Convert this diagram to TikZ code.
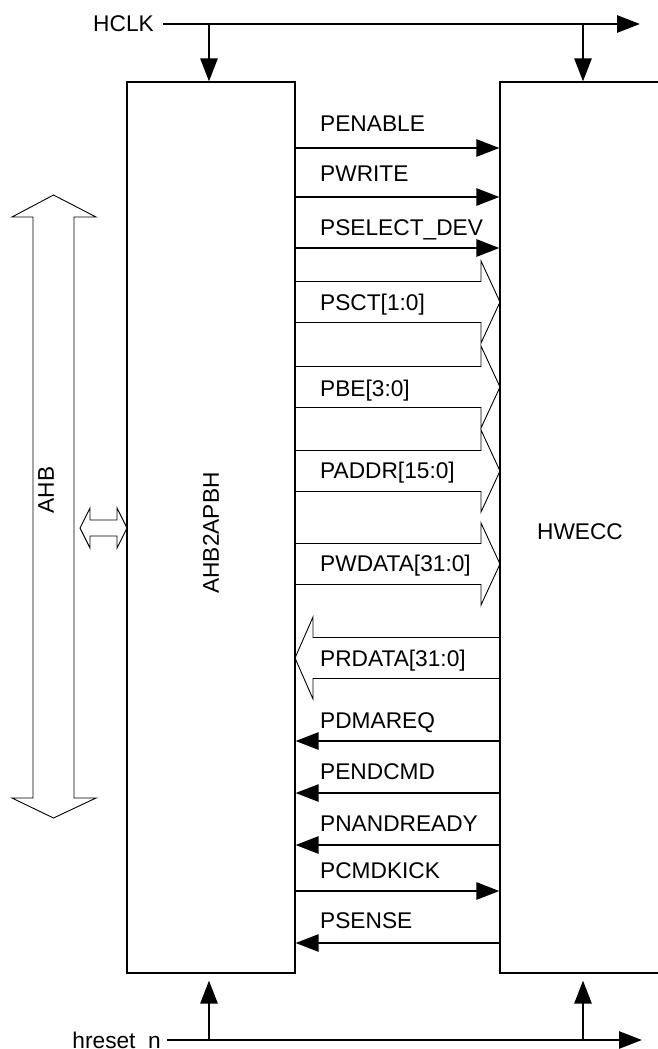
\documentclass[tikz,border=0pt]{standalone}
\usepackage{fontspec}
\setmainfont{Liberation Sans}
\usetikzlibrary{arrows.meta}

\tikzset{
	sig/.style={line width=2.6pt, -{Triangle[length=23pt,width=17pt]}},
	bus/.style={line width=0.9pt, line join=miter},
	blk/.style={draw, line width=1.1pt, minimum width=#1, minimum height=891pt, inner sep=0pt},
	lbl/.style={inner sep=0pt},
}

\begin{document}
\begin{tikzpicture}[x=1pt, y=-1pt, font=\fontsize{22.7}{27}\selectfont]
	
	% ------------------------------------------------------------
	% Positionen
	% ------------------------------------------------------------
	
	\def\xl{295}
	\def\xr{500}
	\def\xlab{320}
	\def\hb{481}
	
	\clip (0,0) rectangle (658,1049);
	
	% ------------------------------------------------------------
	% Blocks
	% ------------------------------------------------------------
	
	\node[blk=168pt] (apbh) at (211,527.5) {};
	\node[blk=220pt] (hwecc) at (610,527.5) {};
	
	\node[lbl, rotate=90] (apbhname) at (211,533) {AHB2APBH};
	\node[lbl] (hweccname) at (580,532) {HWECC};
	
	% ------------------------------------------------------------
	% Clock and reset
	% ------------------------------------------------------------
	
	\node[lbl, anchor=east] (hclk) at (154,24) {HCLK};
	\coordinate (hclkend) at (640,24);
	\draw[sig] ([xshift=9pt]hclk.east) -- (hclkend);
	
	\coordinate (ckA) at (209,24);
	\coordinate (ckB) at (583,24);
	\draw[sig] (ckA) -- (ckA |- apbh.north);
	\draw[sig] (ckB) -- (ckB |- hwecc.north);
	
	\node[lbl, anchor=base east] (hrst) at (161,1048) {hreset\_n};
	\coordinate (hrststart) at (167,1040);
	\coordinate (hrstend) at (642,1040);
	\draw[sig] (hrststart) -- (hrstend);
	
	\coordinate (rsA) at (209,1040);
	\coordinate (rsB) at (583,1040);
	\draw[sig, shorten >=7pt] (rsA) -- (rsA |- apbh.south);
	\draw[sig, shorten >=7pt] (rsB) -- (rsB |- hwecc.south);
	
	% ------------------------------------------------------------
	% AHB bus
	% ------------------------------------------------------------
	
	\draw[bus] (33,217) -- (12,217) -- (53.5,195) -- (96,217) -- (74,217)
	-- (74,798) -- (96,798) -- (53.5,818) -- (12,798) -- (33,798) -- cycle;
	\node[lbl, rotate=90] (ahb) at (46,490) {AHB};
	
	\draw[bus] (80,528) -- (90,508) -- (90,520) -- (117,520) -- (117,508)
	-- (127,528) -- (117,548) -- (117,536) -- (90,536) -- (90,548) -- cycle;
	
	% ------------------------------------------------------------
	% Single signals
	% ------------------------------------------------------------
	
	\foreach \y in {148,197,248,891}
	\draw[sig] (apbh.east |- 0,\y) -- (hwecc.west |- 0,\y);
	
	\foreach \y in {741,793,845,943}
	\draw[sig] (hwecc.west |- 0,\y) -- (apbh.east |- 0,\y);
	
	% ------------------------------------------------------------
	% Bus signals
	% ------------------------------------------------------------
	
	\foreach \c in {302,387,471,564}
	\draw[bus] (\xl,{\c-20.5}) -- (\hb,{\c-20.5}) -- (\hb,{\c-41}) -- (\xr,\c)
	-- (\hb,{\c+41}) -- (\hb,{\c+20.5}) -- (\xl,{\c+20.5});
	
	\draw[bus] (\xr,637.5) -- (313,637.5) -- (313,617) -- (\xl,658)
	-- (313,699) -- (313,678.5) -- (\xr,678.5);
	
	% ------------------------------------------------------------
	% Labels
	% ------------------------------------------------------------
	
	\foreach \y/\txt in {123/PENABLE, 173/PWRITE, 227/PSELECT\_DEV,
		302/PSCT[1:0], 388/PBE[3:0], 470/PADDR[15:0], 563/PWDATA[31:0],
		658/PRDATA[31:0], 720/PDMAREQ, 771/PENDCMD, 823/PNANDREADY,
		870/PCMDKICK, 920/PSENSE}
	\node[lbl, anchor=base west] (lab\y) at (\xlab,{\y+8}) {\txt};
	
\end{tikzpicture}
\end{document}
